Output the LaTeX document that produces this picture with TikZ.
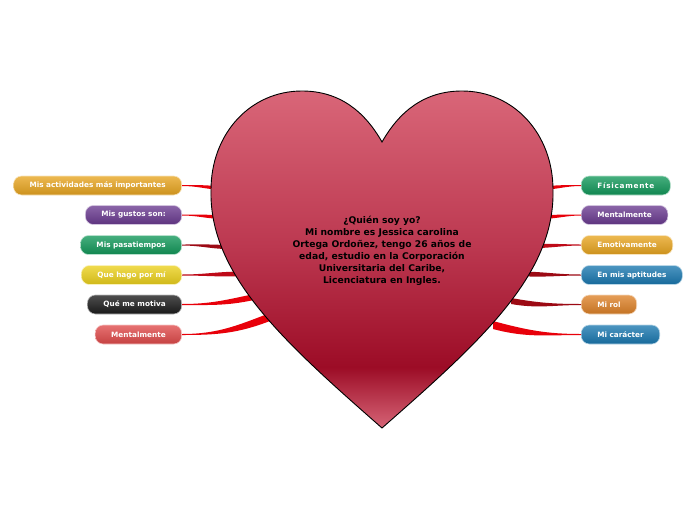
\documentclass[tikz,border=0pt]{standalone}
\usepackage{fontspec}
\setmainfont{DejaVu Sans}
\usetikzlibrary{calc}

% topic colours
\definecolor{tGold}{HTML}{E8A520}
\definecolor{tPurple}{HTML}{6A3A90}
\definecolor{tGreen}{HTML}{12985A}
\definecolor{tYellow}{HTML}{ECD11C}
\definecolor{tBlack}{HTML}{1C1C1C}
\definecolor{tSalmon}{HTML}{E04A4A}
\definecolor{tBlue}{HTML}{1A78B0}
\definecolor{tOrange}{HTML}{DE8228}
% branch colours
\definecolor{bRed}{HTML}{E8000A}
\definecolor{bMid}{HTML}{BE0A18}
\definecolor{bDark}{HTML}{9C0A14}
% heart colours
\definecolor{hTop}{HTML}{D96678}
\definecolor{hMid}{HTML}{BC3850}
\definecolor{hDeep}{HTML}{9C0C26}
\definecolor{hTip}{HTML}{D66476}

\pgfdeclareverticalshading{heartshade}{100bp}{color(0bp)=(hTip); color(25bp)=(hTip);
  color(34bp)=(hDeep); color(52bp)=(hMid); color(75bp)=(hTop); color(100bp)=(hTop)}

\tikzset{
  topic/.style={rounded corners=8pt, minimum height=19pt, inner xsep=16pt, inner ysep=0pt,
    text=white, font=\bfseries\fontsize{7.3}{8}\selectfont,
    top color=#1!78!white, bottom color=#1!88!black, draw=#1!30!white, line width=0.6pt}
}

% tapered branch: colour, start, out angle, end, in angle, half width
\newcommand{\twig}[6]{%
  \fill[#1] ([yshift=0.5pt]#2) to[out=#3,in=#5] ([yshift=#6pt]#4)
    -- ([yshift=-#6pt]#4) to[out=#5,in=#3] ([yshift=-0.5pt]#2) -- cycle;}

\begin{document}
\begin{tikzpicture}[x=1pt,y=1pt]
  \fill[white] (0,0) rectangle (696,-520);

  % left topics
  \node[topic=tGold, anchor=east] (acts) at (182,-185.5) {Mis actividades más importantes};
  \node[topic=tPurple, anchor=east] (likes) at (182,-215) {Mis gustos son:};
  \node[topic=tGreen, anchor=east] (hobby) at (182,-245) {Mis pasatiempos};
  \node[topic=tYellow, anchor=east] (self) at (182,-275) {Que hago por mí};
  \node[topic=tBlack, anchor=east] (motive) at (182,-304.5) {Qué me motiva};
  \node[topic=tSalmon, anchor=east] (mindL) at (182,-334.5) {Mentalmente};

  % right topics
  \node[topic=tGreen, anchor=west] (body) at (581,-185.5) {\addfontfeature{LetterSpace=10}Físicamente};
  \node[topic=tPurple, anchor=west] (mindR) at (581,-215) {Mentalmente};
  \node[topic=tGold, anchor=west] (feel) at (581,-245) {Emotivamente};
  \node[topic=tBlue, anchor=west] (skill) at (581,-275) {En mis aptitudes};
  \node[topic=tOrange, anchor=west] (role) at (581,-304.5) {Mi rol};
  \node[topic=tBlue, anchor=west] (trait) at (581,-334.5) {Mi carácter};

  % branch ends inside the heart
  \coordinate (hl1) at (218,-188);
  \coordinate (hl2) at (218,-217);
  \coordinate (hl3) at (224,-247);
  \coordinate (hl4) at (237,-274);
  \coordinate (hl5) at (254,-297);
  \coordinate (hl6) at (270,-317);
  \coordinate (hr1) at (546,-188);
  \coordinate (hr2) at (546,-217);
  \coordinate (hr3) at (539,-246);
  \coordinate (hr4) at (527,-274);
  \coordinate (hr5) at (511,-301);
  \coordinate (hr6) at (493,-325);

  % branches
  \twig{bRed}{acts.east}{0}{hl1}{175}{1.8}
  \twig{bRed}{likes.east}{0}{hl2}{177}{1.8}
  \twig{bDark}{hobby.east}{0}{hl3}{177}{2}
  \twig{bMid}{self.east}{0}{hl4}{181}{2.4}
  \twig{bRed}{motive.east}{0}{hl5}{192}{3}
  \twig{bRed}{mindL.east}{0}{hl6}{201}{4}
  \twig{bRed}{body.west}{180}{hr1}{5}{1.8}
  \twig{bRed}{mindR.west}{180}{hr2}{3}{1.8}
  \twig{bMid}{feel.west}{180}{hr3}{2}{2}
  \twig{bDark}{skill.west}{180}{hr4}{358}{2.4}
  \twig{bDark}{role.west}{180}{hr5}{350}{3}
  \twig{bRed}{trait.west}{180}{hr6}{345}{4}

  % heart
  \shadedraw[shading=heartshade, draw=black, line width=0.9pt]
    (382,-142) .. controls (365,-112) and (340,-91) .. (302,-91)
    .. controls (250,-91) and (211,-134) .. (211,-190)
    .. controls (209,-275) and (284,-342) .. (382,-428)
    .. controls (480,-342) and (555,-275) .. (553,-190)
    .. controls (553,-134) and (514,-91) .. (462,-91)
    .. controls (424,-91) and (399,-112) .. (382,-142) -- cycle;

  \node[align=center, font=\bfseries\fontsize{9.2}{12.1}\selectfont] (who) at (382,-251)
    {¿Quién soy yo?\\Mi nombre es Jessica carolina\\Ortega Ordoñez, tengo 26 años de\\
     edad, estudio en la Corporación\\Universitaria del Caribe,\\Licenciatura en Ingles.};
\end{tikzpicture}
\end{document}
